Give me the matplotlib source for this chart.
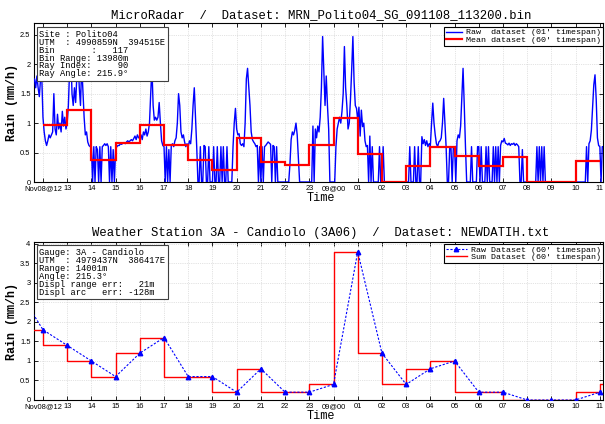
import matplotlib
matplotlib.use("Agg")
import matplotlib.pyplot as plt
from matplotlib.lines import Line2D
from matplotlib.ticker import FormatStrFormatter
import numpy as np

# ---------------- data ----------------
# hours after Nov08 12:00
hour_ticks = list(range(0, 24))
hour_labels = ["Nov08@12", "13", "14", "15", "16", "17", "18", "19", "20", "21", "22", "23",
               "09@00", "01", "02", "03", "04", "05", "06", "07", "08", "09", "10", "11"]

# MicroRadar raw dataset (sampled every 3 minutes = 0.05 h, starting at -0.40 h)
raw_t0 = -0.40
raw_dt = 0.05
raw_rain = [
    1.70, 1.75, 1.60, 1.80, 1.60, 1.45, 1.75, 1.80,
    1.10, 0.85, 0.70, 0.62, 0.70, 0.80, 0.75, 0.80, 0.85, 1.50, 0.90, 0.80, 1.15, 0.90, 1.00, 0.85, 1.20, 0.95, 1.10, 0.90,
    1.00, 1.30, 1.90, 2.20, 1.50, 1.30, 1.60, 1.35, 1.80, 2.10, 1.60, 1.30, 2.00, 1.55, 1.10, 0.80, 0.85, 0.68, 0.62, 0.60,
    0.60, 0.00, 0.60, 0.00, 0.60, 0.55, 0.00, 0.60, 0.00, 0.60, 0.62, 0.65, 0.62, 0.65, 0.60, 0.00, 0.60, 0.00, 0.55, 0.00,
    0.55, 0.60, 0.62, 0.62, 0.65, 0.64, 0.66, 0.67, 0.65, 0.68, 0.70, 0.68, 0.70, 0.72, 0.70, 0.74, 0.78, 0.72, 0.80, 0.75,
    0.75, 0.80, 0.72, 0.85, 0.80, 0.90, 0.78, 0.85, 1.00, 1.50, 1.95, 1.30, 1.05, 1.10, 1.05, 1.10, 1.35, 1.00, 0.70, 0.62,
    0.60, 0.00, 0.60, 0.00, 0.55, 0.00, 0.62, 0.65, 0.60, 0.70, 0.75, 1.00, 1.50, 1.30, 0.85, 0.75, 0.80, 0.68, 0.60, 0.65,
    0.60, 0.70, 0.65, 0.90, 1.30, 1.60, 1.10, 0.60, 0.00, 0.00, 0.60, 0.00, 0.00, 0.62, 0.60, 0.00, 0.00, 0.60, 0.00, 0.00,
    0.00, 0.60, 0.00, 0.00, 0.60, 0.00, 0.00, 0.60, 0.00, 0.60, 0.00, 0.00, 0.60, 0.00, 0.00, 0.00, 0.00, 0.60, 1.00, 1.25,
    0.90, 0.80, 0.82, 0.65, 0.62, 0.65, 0.60, 1.00, 1.75, 1.93, 1.60, 1.30, 0.85, 0.72, 0.68, 0.65, 0.60, 0.62, 0.00, 0.60,
    0.00, 0.60, 0.00, 0.60, 0.62, 0.65, 0.68, 0.66, 0.64, 0.00, 0.62, 0.60, 0.00, 0.60, 0.00, 0.00, 0.00, 0.00, 0.00, 0.00,
    0.00, 0.00, 0.00, 0.00, 0.30, 0.72, 0.85, 0.80, 0.88, 1.00, 0.80, 0.40, 0.00, 0.00, 0.00, 0.00, 0.00, 0.00, 0.00, 0.00,
    0.00, 0.00, 0.00, 0.95, 0.00, 0.90, 0.75, 0.95, 0.85, 1.10, 1.60, 2.47, 1.90, 1.30, 1.80, 1.30, 0.90, 0.00, 0.00, 0.00,
    0.00, 0.00, 0.60, 0.90, 1.00, 1.10, 1.00, 1.20, 1.50, 2.30, 1.60, 1.30, 0.90, 1.00, 1.40, 1.90, 2.47, 1.70, 1.30, 1.25,
    1.05, 1.27, 0.78, 1.22, 0.94, 1.00, 0.70, 0.60, 0.62, 0.00, 0.78, 0.00, 0.60, 0.00, 0.00, 0.00, 0.00, 0.00, 0.60, 0.00,
    0.00, 0.60, 0.00, 0.00, 0.00, 0.00, 0.00, 0.00, 0.00, 0.00, 0.00, 0.00, 0.00, 0.00, 0.00, 0.00, 0.00, 0.00, 0.00, 0.00,
    0.00, 0.00, 0.00, 0.60, 0.00, 0.00, 0.00, 0.60, 0.00, 0.00, 0.60, 0.00, 0.00, 0.77, 0.65, 0.72, 0.62, 0.70, 0.60, 0.65,
    0.62, 1.00, 1.34, 1.00, 0.80, 0.65, 0.60, 0.68, 0.70, 0.75, 1.00, 1.42, 1.00, 0.60, 0.00, 0.00, 0.60, 0.60, 0.00, 0.60,
    0.60, 0.00, 0.70, 0.80, 0.75, 0.95, 1.45, 1.93, 1.30, 0.60, 0.00, 0.00, 0.00, 0.00, 0.60, 0.00, 0.00, 0.00, 0.00, 0.60,
    0.60, 0.00, 0.60, 0.00, 0.00, 0.00, 0.60, 0.00, 0.60, 0.00, 0.00, 0.00, 0.60, 0.00, 0.60, 0.00, 0.60, 0.00, 0.62, 0.70,
    0.68, 0.74, 0.66, 0.65, 0.63, 0.66, 0.62, 0.65, 0.64, 0.66, 0.62, 0.65, 0.63, 0.60, 0.00, 0.00, 0.55, 0.00, 0.00, 0.00,
    0.00, 0.00, 0.00, 0.00, 0.00, 0.00, 0.00, 0.00, 0.60, 0.00, 0.60, 0.00, 0.60, 0.00, 0.60, 0.00, 0.00, 0.00, 0.00, 0.00,
    0.00, 0.00, 0.00, 0.00, 0.00, 0.00, 0.00, 0.00, 0.00, 0.00, 0.00, 0.00, 0.00, 0.00, 0.00, 0.00, 0.00, 0.00, 0.00, 0.00,
    0.00, 0.00, 0.00, 0.00, 0.00, 0.00, 0.00, 0.00, 0.00, 0.60, 0.00, 0.65, 0.70, 0.88, 1.28, 1.65, 1.82, 1.40, 0.75, 0.62,
    0.60, 0.00, 0.60, 0.60,
]

# MicroRadar mean dataset (60' timespan), hourly intervals starting at 12:00
mean_edges = list(range(0, 24))
mean_rain = [0.96, 1.22, 0.38, 0.66, 0.97, 0.62, 0.38, 0.20, 0.75, 0.34, 0.29, 0.62,
             1.09, 0.48, 0.005, 0.27, 0.59, 0.44, 0.27, 0.42, 0.005, 0.005, 0.36]

# Weather station hourly gauge data (hour-ending), hours -1 (11:00) .. 24 (12:00 next day)
gauge_hours = list(range(-1, 25))
gauge_rain = [2.8, 1.8, 1.4, 1.0, 0.6, 1.2, 1.6, 0.6, 0.6, 0.2, 0.8, 0.2, 0.2,
              0.4, 3.8, 1.2, 0.4, 0.8, 1.0, 0.2, 0.2, 0.0, 0.0, 0.0, 0.2, 0.4]

top_title = "MicroRadar  /  Dataset: MRN_Polito04_SG_091108_113200.bin"
bot_title = "Weather Station 3A - Candiolo (3A06)  /  Dataset: NEWDATIH.txt"
top_info = ["Site : Polito04",
            "UTM  : 4990859N  394515E",
            "Bin       :   117",
            "Bin Range: 13980m",
            "Ray Index:     90",
            "Ray Angle: 215.9°"]
bot_info = ["Gauge: 3A - Candiolo",
            "UTM  : 4979437N  386417E",
            "Range: 14001m",
            "Angle: 215.3°",
            "Displ range err:   21m",
            "Displ arc   err: -128m"]
top_legend = ["Raw  dataset (01' timespan)", "Mean dataset (60' timespan)"]
bot_legend = ["Raw Dataset (60' timespan)", "Sum Dataset (60' timespan)"]

# ---------------- figure ----------------
MONO = "Liberation Mono"
SANS = "Liberation Sans"
W, H = 605, 424
fig = plt.figure(figsize=(W / 100, H / 100), dpi=100)


def px_axes(l, t, r, b):
    return [l / W, 1 - b / H, (r - l) / W, (b - t) / H]


ax1 = fig.add_axes(px_axes(34, 23, 603, 182))
ax2 = fig.add_axes(px_axes(34, 242, 603, 400))

xlim = (-0.37, 23.13)

raw_t = raw_t0 + raw_dt * np.arange(len(raw_rain))
ax1.plot(raw_t, raw_rain, color="#0000ff", lw=1.0, zorder=3)
ax1.stairs(mean_rain, mean_edges, baseline=None, color="#ff0000", lw=1.6, zorder=4)

ax2.step(gauge_hours, gauge_rain, where="pre", color="#ff0000", lw=1.0, zorder=3)
ax2.plot(gauge_hours, gauge_rain, color="#0000ff", lw=0.8, ls=(0, (2, 1.5)),
         marker="^", ms=3.2, mfc="#0000ff", mec="#0000ff", zorder=4)

for ax, ymax, yt in ((ax1, 2.7, np.arange(0, 2.51, 0.5)), (ax2, 4.05, np.arange(0, 4.01, 0.5))):
    ax.set_xlim(*xlim)
    ax.set_ylim(0, ymax)
    ax.set_xticks(hour_ticks)
    ax.set_xticklabels(hour_labels, fontfamily=SANS, fontsize=5.4)
    ax.set_yticks(yt)
    ax.yaxis.set_major_formatter(FormatStrFormatter("%g"))
    for lab in ax.get_yticklabels():
        lab.set_fontfamily(SANS)
        lab.set_fontsize(5.4)
    ax.tick_params(direction="in", top=True, right=True, length=3, width=0.6, pad=2.5)
    ax.grid(True, color="#c8c8c8", lw=0.5, ls=":")
    ax.set_axisbelow(True)
    for s in ax.spines.values():
        s.set_linewidth(0.8)
    ax.set_xlabel("Time", fontfamily=MONO, fontsize=8.6)
    ax.set_ylabel("Rain (mm/h)", fontfamily=MONO, fontsize=8.4, fontweight="bold")
    ax.yaxis.set_label_coords(-0.028, 0.5)

ax1.xaxis.set_label_coords(0.504, -0.066)
ax2.xaxis.set_label_coords(0.504, -0.066)

ax1.text(0.504, 1.031, top_title, transform=ax1.transAxes, ha="center", va="baseline",
         fontfamily=MONO, fontsize=8.8)
ax2.text(0.504, 1.038, bot_title, transform=ax2.transAxes, ha="center", va="baseline",
         fontfamily=MONO, fontsize=8.8)

box = dict(boxstyle="square,pad=0.3", fc="white", ec="#404040", lw=0.8)
ax1.text(0.0093, 0.958, "\n".join(top_info), transform=ax1.transAxes, ha="left", va="top",
         fontfamily=MONO, fontsize=6.3, linespacing=0.85, bbox=box, zorder=10)
ax2.text(0.0093, 0.963, "\n".join(bot_info), transform=ax2.transAxes, ha="left", va="top",
         fontfamily=MONO, fontsize=6.3, linespacing=0.85, bbox=box, zorder=10)

h1 = [Line2D([], [], color="#0000ff", lw=1.0), Line2D([], [], color="#ff0000", lw=1.6)]
leg1 = ax1.legend(h1, top_legend, loc="upper right", bbox_to_anchor=(1.0, 0.975),
                  borderaxespad=0, prop=dict(family=MONO, size=6), fancybox=False,
                  edgecolor="black", framealpha=1, handlelength=2.0, handletextpad=0.5,
                  borderpad=0.2, labelspacing=0.0)
leg1.get_frame().set_linewidth(0.8)
leg1.set_zorder(10)

h2 = [Line2D([], [], color="#0000ff", lw=0.8, ls=(0, (2, 1.5)), marker="^", ms=3.2),
      Line2D([], [], color="#ff0000", lw=1.0)]
leg2 = ax2.legend(h2, bot_legend, loc="upper right", bbox_to_anchor=(1.0, 0.987),
                  borderaxespad=0, prop=dict(family=MONO, size=6), fancybox=False,
                  edgecolor="black", framealpha=1, handlelength=2.6, handletextpad=0.5,
                  borderpad=0.2, labelspacing=0.0)
leg2.get_frame().set_linewidth(0.8)
leg2.set_zorder(10)

fig.savefig("out.png", dpi=100)
